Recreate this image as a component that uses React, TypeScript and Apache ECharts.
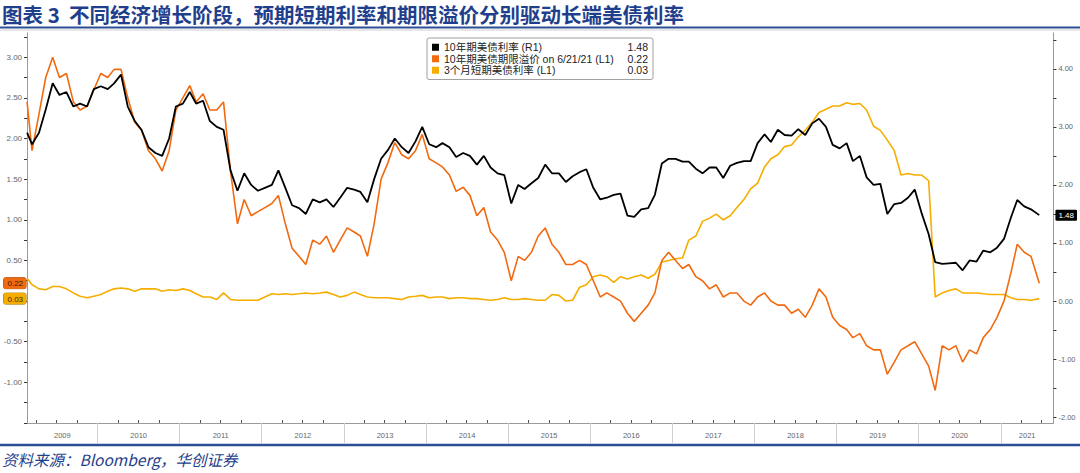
import React, { useEffect, useRef } from "react";
import * as echarts from "echarts";

// ---- data ----
const FIRST_DATE = "2009-02-21";
const LAST_DATE = "2021-06-21";
const AXIS_MIN = "2009-02-21";
const AXIS_MAX = "2021-08-23";
const YEARS = [2009, 2010, 2011, 2012, 2013, 2014, 2015, 2016, 2017, 2018, 2019, 2020, 2021];

// 10Y UST yield (right axis), first point, Mar-2009 .. May-2021 monthly, last point
const yield10y = [
  2.9,
  2.7, 2.9, 3.3, 3.75, 3.55, 3.6, 3.35, 3.4, 3.35, 3.65,
  3.7, 3.65, 3.75, 3.9, 3.35, 3.1, 2.95, 2.65, 2.55, 2.5, 2.8, 3.35,
  3.4, 3.6, 3.4, 3.45, 3.1, 3.0, 2.95, 2.25, 1.9, 2.2, 2.0, 1.9,
  1.95, 2.0, 2.25, 1.95, 1.65, 1.6, 1.5, 1.75, 1.7, 1.75, 1.62, 1.78,
  1.95, 1.92, 1.88, 1.7, 2.1, 2.45, 2.6, 2.8, 2.65, 2.55, 2.75, 3.0,
  2.7, 2.65, 2.72, 2.65, 2.48, 2.55, 2.5, 2.35, 2.5, 2.3, 2.2, 2.17,
  1.68, 2.0, 1.93, 2.03, 2.12, 2.35, 2.2, 2.2, 2.05, 2.15, 2.22, 2.27,
  1.95, 1.75, 1.78, 1.83, 1.85, 1.47, 1.45, 1.58, 1.6, 1.83, 2.37, 2.45,
  2.45, 2.4, 2.4, 2.28, 2.2, 2.3, 2.3, 2.12, 2.33, 2.38, 2.41, 2.41,
  2.72, 2.87, 2.74, 2.95, 2.86, 2.85, 2.96, 2.86, 3.06, 3.14, 3.0, 2.69,
  2.63, 2.72, 2.41, 2.5, 2.13, 2.0, 2.02, 1.5, 1.67, 1.69, 1.78, 1.92,
  1.51, 1.15, 0.67, 0.64, 0.65, 0.66, 0.53, 0.7, 0.68, 0.87, 0.84, 0.92,
  1.07, 1.44, 1.74, 1.63, 1.58,
  1.48,
];

// 10Y term premium (left axis)
const termPremium = [
  2.45,
  1.85, 2.3, 2.75, 3.0, 2.75, 2.8, 2.45, 2.35, 2.4, 2.6,
  2.8, 2.75, 2.85, 2.85, 2.5, 2.2, 2.1, 1.85, 1.75, 1.6, 1.85, 2.35,
  2.5, 2.65, 2.45, 2.55, 2.35, 2.35, 2.45, 1.6, 0.95, 1.25, 1.05, 1.1,
  1.15, 1.2, 1.3, 0.95, 0.65, 0.55, 0.45, 0.75, 0.7, 0.8, 0.6, 0.75,
  0.9, 0.85, 0.8, 0.55, 0.95, 1.5, 1.7, 1.95, 1.8, 1.75, 1.85, 2.05,
  1.75, 1.7, 1.65, 1.55, 1.35, 1.4, 1.3, 1.05, 1.15, 0.85, 0.75, 0.6,
  0.25, 0.55, 0.5, 0.6, 0.8, 0.9, 0.7, 0.6, 0.45, 0.45, 0.5, 0.45,
  0.25, 0.05, 0.1, 0.05, 0.0, -0.15, -0.25, -0.15, -0.05, 0.1, 0.5, 0.6,
  0.5, 0.4, 0.45, 0.3, 0.25, 0.15, 0.2, 0.05, 0.1, 0.1, 0.0, -0.05,
  0.05, 0.1, 0.0, -0.05, -0.05, -0.15, -0.1, -0.2, -0.05, 0.15, 0.05, -0.2,
  -0.3, -0.35, -0.45, -0.4, -0.55, -0.6, -0.6, -0.9, -0.75, -0.6, -0.55, -0.5,
  -0.65, -0.8, -1.1, -0.55, -0.6, -0.55, -0.75, -0.6, -0.65, -0.45, -0.35, -0.2,
  0.0, 0.35, 0.7, 0.6, 0.55,
  0.22,
];

// 3M T-bill yield (left axis)
const bill3m = [
  0.28,
  0.2, 0.15, 0.14, 0.18, 0.18, 0.15, 0.1, 0.06, 0.04, 0.06,
  0.08, 0.12, 0.15, 0.16, 0.15, 0.12, 0.15, 0.15, 0.15, 0.12, 0.14, 0.13,
  0.15, 0.13, 0.09, 0.05, 0.05, 0.02, 0.1, 0.02, 0.01, 0.01, 0.01, 0.01,
  0.05, 0.09, 0.08, 0.09, 0.08, 0.09, 0.1, 0.09, 0.1, 0.11, 0.08, 0.05,
  0.07, 0.11, 0.08, 0.05, 0.04, 0.04, 0.04, 0.03, 0.02, 0.05, 0.06, 0.07,
  0.04, 0.05, 0.05, 0.03, 0.04, 0.04, 0.03, 0.03, 0.02, 0.01, 0.02, 0.04,
  0.02, 0.02, 0.03, 0.02, 0.01, 0.01, 0.08, 0.07, 0.0, 0.01, 0.17, 0.2,
  0.3, 0.32, 0.3, 0.23, 0.3, 0.27, 0.3, 0.32, 0.28, 0.33, 0.48, 0.5,
  0.52, 0.53, 0.75, 0.8, 0.98, 1.02, 1.07, 1.0, 1.05, 1.15, 1.25, 1.38,
  1.45, 1.65, 1.75, 1.8, 1.9, 1.92, 2.02, 2.1, 2.2, 2.32, 2.36, 2.4,
  2.4, 2.44, 2.42, 2.43, 2.35, 2.15, 2.1, 1.98, 1.85, 1.55, 1.57, 1.55,
  1.55, 1.48, 0.05, 0.1, 0.13, 0.15, 0.1, 0.1, 0.1, 0.09, 0.08, 0.08,
  0.08, 0.04, 0.02, 0.02, 0.01,
  0.03,
];

const NAME_YIELD = "10年期美债利率 (R1)";
const NAME_TP = "10年期美债期限溢价 on 6/21/21 (L1)";
const NAME_BILL = "3个月短期美债利率 (L1)";

const LEFT_LABELS = [-1, -0.5, 0, 0.5, 1, 1.5, 2, 2.5, 3];
const RIGHT_LABELS = [-2, -1, 0, 1, 2, 3, 4];

const TITLE = "图表 3  不同经济增长阶段，预期短期利率和期限溢价分别驱动长端美债利率";
const SOURCE = "资料来源：Bloomberg，华创证券";

const COLOR_YIELD = "#000000";
const COLOR_TP = "#F26A10";
const COLOR_BILL = "#F5AE00";
const NAVY = "#1F3F8C";

function pad(n: number) {
  return n < 10 ? "0" + n : "" + n;
}
function ts(s: string) {
  const [y, m, d] = s.split("-").map(Number);
  return Date.UTC(y, m - 1, d);
}
function buildDates(count: number): number[] {
  const out = [ts(FIRST_DATE)];
  let y = 2009, m = 3;
  for (let i = 0; i < count - 2; i++) {
    out.push(ts(`${y}-${pad(m)}-15`));
    m++;
    if (m > 12) { m = 1; y++; }
  }
  out.push(ts(LAST_DATE));
  return out;
}

export default function App() {
  const ref = useRef<HTMLDivElement>(null);
  useEffect(() => {
    if (!ref.current) return;
    const chart = echarts.init(ref.current, null, { renderer: "svg" });
    const dates = buildDates(yield10y.length);
    const pair = (vals: number[]) => vals.map((v, i) => [dates[i], v]);
    const minT = ts(AXIS_MIN), maxT = ts(AXIS_MAX);
    const yearStarts = YEARS.slice(1).map((y) => Date.UTC(y, 0, 1));
    const yearMids = YEARS.map((y) => {
      const a = Math.max(minT, Date.UTC(y, 0, 1));
      const b = Math.min(maxT, Date.UTC(y + 1, 0, 1));
      return (a + b) / 2;
    });
    const quarterTicks: number[] = [];
    YEARS.forEach((y) => [3, 6, 9].forEach((m) => {
      const t = Date.UTC(y, m, 1);
      if (t > minT && t < maxT) quarterTicks.push(t);
    }));
    const leftTicks: number[] = [];
    for (let v = -1.5; v <= 3.26; v += 0.25) leftTicks.push(Math.round(v * 100) / 100);
    const rightTicks: number[] = [];
    for (let v = -2; v <= 4.51; v += 0.5) rightTicks.push(v);
    const lastYield = yield10y[yield10y.length - 1];
    const lastTp = termPremium[termPremium.length - 1];
    const lastBill = bill3m[bill3m.length - 1];
    const lastVals: Record<string, number> = {
      [NAME_YIELD]: lastYield, [NAME_TP]: lastTp, [NAME_BILL]: lastBill,
    };
    const font = "'Liberation Sans', 'Noto Sans CJK SC', sans-serif";
    const LEFT_MIN = -1.5, LEFT_MAX = 3.3, RIGHT_MIN = -2.1, RIGHT_MAX = 4.62;

    chart.setOption({
      animation: false,
      backgroundColor: "#ffffff",
      textStyle: { fontFamily: font },
      title: [
        {
          text: TITLE, left: 2, top: 3, padding: 0,
          textStyle: { fontSize: 20.5, lineHeight: 22, fontWeight: "bold", color: NAVY, fontFamily: "'Noto Sans CJK SC', sans-serif" },
        },
        {
          text: SOURCE, left: 2, top: 451, padding: 0,
          textStyle: { fontSize: 15.5, fontWeight: "normal", fontStyle: "italic", color: NAVY, fontFamily: "'Noto Sans CJK SC', 'Liberation Serif', serif" },
        },
      ],
      graphic: [
        { type: "line", shape: { x1: 0, y1: 27.5, x2: 1080, y2: 27.5 }, style: { stroke: "#2B4E96", lineWidth: 2 } },
        { type: "line", shape: { x1: 0, y1: 30, x2: 1080, y2: 30 }, style: { stroke: "#d0d0d0", lineWidth: 1 } },
        { type: "line", shape: { x1: 0, y1: 445, x2: 1080, y2: 445 }, style: { stroke: "#2B4E96", lineWidth: 2.5 } },
      ],
      legend: {
        data: [NAME_YIELD, NAME_TP, NAME_BILL],
        orient: "vertical",
        left: 427, top: 38,
        padding: [4, 5, 4, 5],
        itemGap: 1,
        itemWidth: 7, itemHeight: 7,
        icon: "rect",
        backgroundColor: "#ffffff",
        borderColor: "#a0a0a0",
        borderWidth: 1,
        borderRadius: 2,
        formatter: (name: string) => `{n|${name}}{v|${lastVals[name].toFixed(2)}}`,
        textStyle: {
          rich: {
            n: { width: 176, fontSize: 10.5, color: "#222", lineHeight: 11 },
            v: { width: 28, align: "right", fontSize: 10.5, color: "#222", lineHeight: 11 },
          },
        },
      },
      grid: { left: 21.7, right: 25, top: 32.8, bottom: 50, containLabel: false },
      xAxis: [
        {
          type: "value", min: minT, max: maxT, position: "bottom",
          axisLine: { show: true, onZero: false, lineStyle: { color: "#9a9a9a", width: 1 } },
          axisTick: { show: true, customValues: yearStarts, length: 20, inside: false, lineStyle: { color: "#cfcfcf", width: 1 } },
          axisLabel: {
            show: true, customValues: yearMids, fontSize: 7.5, color: "#666", margin: 9,
            formatter: (v: number) => String(new Date(v).getUTCFullYear()),
          },
          splitLine: { show: false },
        },
        {
          type: "value", min: minT, max: maxT, position: "bottom",
          axisLine: { show: false, onZero: false },
          axisTick: { show: true, customValues: quarterTicks, length: 3, inside: true, lineStyle: { color: "#555", width: 1 } },
          axisLabel: { show: false },
          splitLine: { show: false },
        },
      ],
      yAxis: [
        {
          type: "value", position: "left", min: LEFT_MIN, max: LEFT_MAX,
          axisLine: { show: true, onZero: false, lineStyle: { color: "#9a9a9a" } },
          axisTick: { show: true, customValues: leftTicks, length: 3, lineStyle: { color: "#333" } },
          axisLabel: { customValues: LEFT_LABELS, fontSize: 8, color: "#666", margin: 5, formatter: (v: number) => v.toFixed(2) },
          splitLine: { show: false },
        },
        {
          type: "value", position: "right", min: RIGHT_MIN, max: RIGHT_MAX,
          axisLine: { show: true, onZero: false, lineStyle: { color: "#9a9a9a" } },
          axisTick: { show: true, customValues: rightTicks, length: 3, lineStyle: { color: "#333" } },
          axisLabel: { customValues: RIGHT_LABELS, fontSize: 7.5, color: "#666", margin: 5, formatter: (v: number) => v.toFixed(2) },
          splitLine: { show: false },
        },
        {
          type: "value", position: "left", min: LEFT_MIN, max: LEFT_MAX, z: 20,
          axisLine: { show: false, onZero: false }, axisTick: { show: false }, splitLine: { show: false },
          axisLabel: {
            customValues: [lastTp, lastBill], margin: 1,
            formatter: (v: number) => (v === lastTp ? `{a|${v.toFixed(2)}}` : `{b|${v.toFixed(2)}}`),
            rich: {
              a: { backgroundColor: COLOR_TP, color: "#3a1a00", fontSize: 8, padding: [2, 3, 1, 4], borderRadius: 2, borderColor: "#b04a00", borderWidth: 0.5 },
              b: { backgroundColor: COLOR_BILL, color: "#3a2a00", fontSize: 8, padding: [2, 3, 1, 4], borderRadius: 2, borderColor: "#b07a00", borderWidth: 0.5 },
            },
          },
        },
        {
          type: "value", position: "right", min: RIGHT_MIN, max: RIGHT_MAX, z: 20,
          axisLine: { show: false, onZero: false }, axisTick: { show: false }, splitLine: { show: false },
          axisLabel: {
            customValues: [lastYield], margin: 2,
            formatter: (v: number) => `{c|${v.toFixed(2)}}`,
            rich: { c: { backgroundColor: "#000", color: "#fff", fontSize: 8, padding: [2, 3, 1, 3], borderRadius: 1 } },
          },
        },
      ],
      series: [
        {
          name: NAME_BILL, type: "line", xAxisIndex: 0, yAxisIndex: 0, data: pair(bill3m),
          showSymbol: false, symbol: "none", lineStyle: { color: COLOR_BILL, width: 1.6 }, itemStyle: { color: COLOR_BILL }, z: 2,
        },
        {
          name: NAME_TP, type: "line", xAxisIndex: 0, yAxisIndex: 0, data: pair(termPremium),
          showSymbol: false, symbol: "none", lineStyle: { color: COLOR_TP, width: 1.6 }, itemStyle: { color: COLOR_TP }, z: 3,
        },
        {
          name: NAME_YIELD, type: "line", xAxisIndex: 0, yAxisIndex: 1, data: pair(yield10y),
          showSymbol: false, symbol: "none", lineStyle: { color: COLOR_YIELD, width: 1.8 }, itemStyle: { color: COLOR_YIELD }, z: 4,
        },
      ],
    });
    return () => chart.dispose();
  }, []);
  return (
    <div
      ref={ref}
      style={{ position: "absolute", left: 0, top: 0, width: 1080, height: 473, background: "#fff" }}
    />
  );
}
